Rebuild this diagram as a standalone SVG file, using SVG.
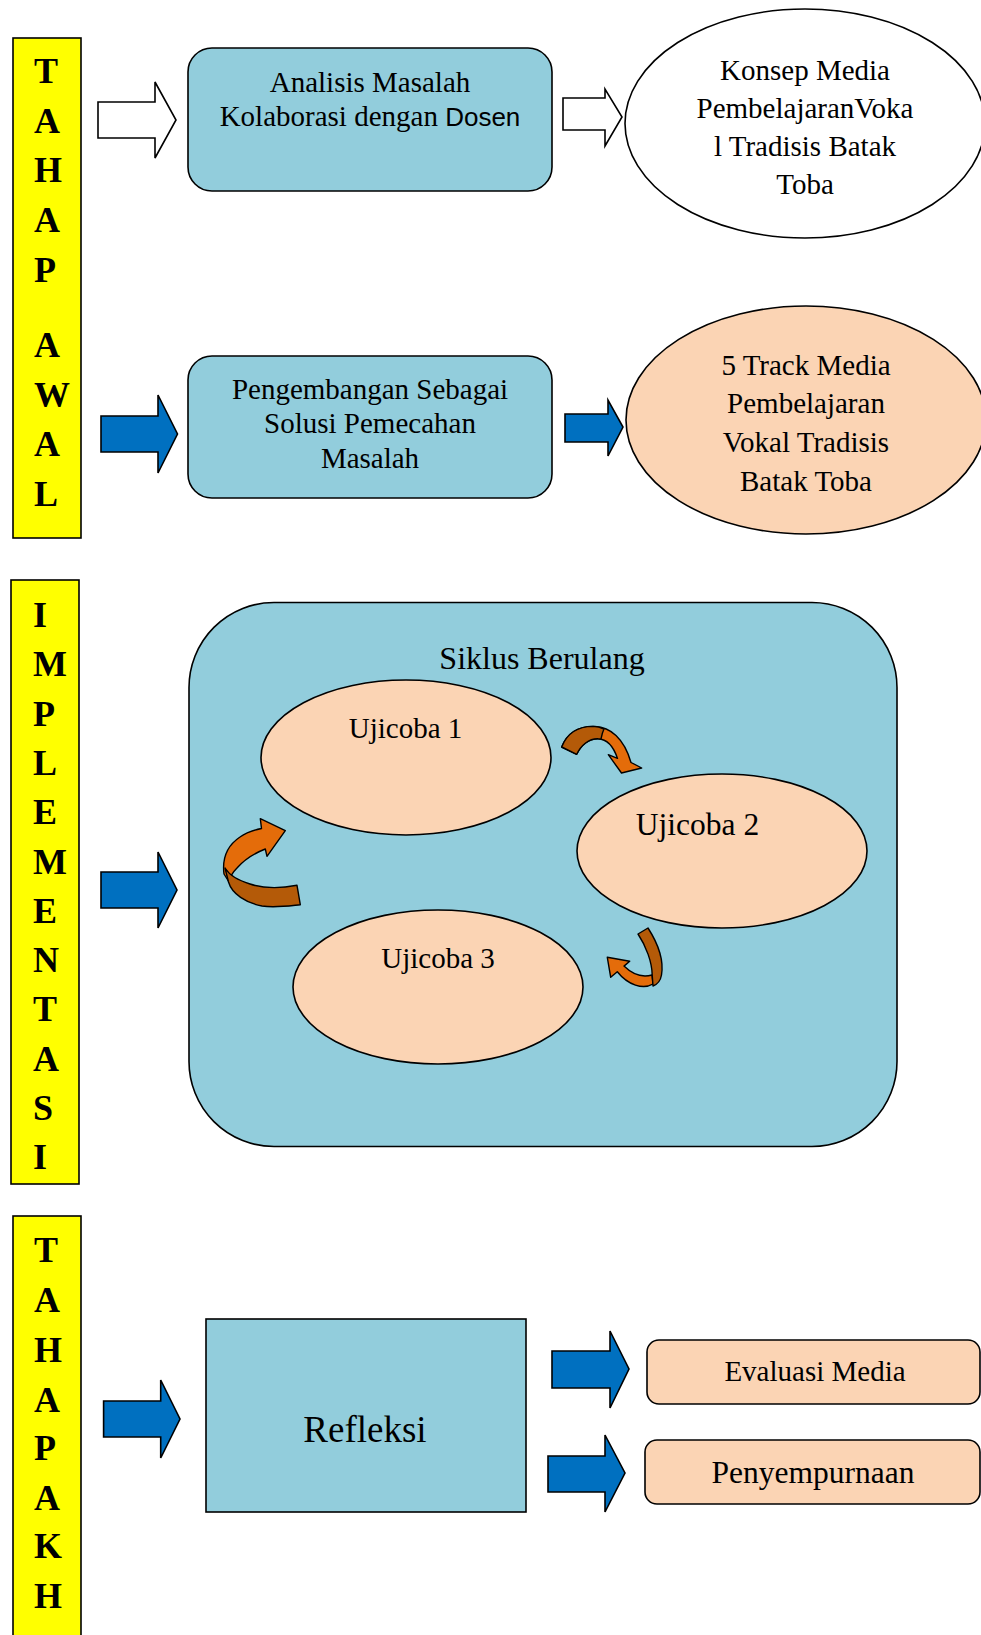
<svg xmlns="http://www.w3.org/2000/svg" width="981" height="1635" viewBox="0 0 981 1635">
<style>
.bar{fill:#FFFF00;stroke:#000;stroke-width:1.6}
.bl{font-family:"Liberation Serif",serif;font-weight:bold;font-size:36px;fill:#000}
.box{fill:#92CDDC;stroke:#000;stroke-width:1.6}
.peach{fill:#FBD4B4;stroke:#000;stroke-width:1.6}
.wh{fill:#fff;stroke:#000;stroke-width:1.6}
.t{font-family:"Liberation Serif",serif;font-size:29px;fill:#000;text-anchor:middle}
.sans{font-family:"Liberation Sans",sans-serif;font-size:26px}
.blue{fill:#0070C0;stroke:#000;stroke-width:1.6;stroke-linejoin:miter}
.warr{fill:#fff;stroke:#000;stroke-width:1.6}
.lo{fill:#E46C0A;stroke:#000;stroke-width:1.4;stroke-linejoin:round}
.dk{fill:#B45A08;stroke:#000;stroke-width:1.4;stroke-linejoin:round}
</style>
<rect width="981" height="1635" fill="#fff"/>

<g id="bar-awal">
<rect class="bar" x="13" y="38" width="68" height="500"/>
<text class="bl" x="34" y="83">T</text>
<text class="bl" x="34" y="132.6">A</text>
<text class="bl" x="34" y="182">H</text>
<text class="bl" x="34" y="232">A</text>
<text class="bl" x="34" y="281.5">P</text>
<text class="bl" x="34" y="357">A</text>
<text class="bl" x="34" y="406.5">W</text>
<text class="bl" x="34" y="456">A</text>
<text class="bl" x="34" y="505.5">L</text>
</g>

<g id="bar-implementasi">
<rect class="bar" x="11" y="580" width="68" height="604"/>
<text class="bl" x="33" y="627">I</text>
<text class="bl" x="33" y="676">M</text>
<text class="bl" x="33" y="726">P</text>
<text class="bl" x="33" y="775">L</text>
<text class="bl" x="33" y="824">E</text>
<text class="bl" x="33" y="874">M</text>
<text class="bl" x="33" y="923">E</text>
<text class="bl" x="33" y="972">N</text>
<text class="bl" x="33" y="1021">T</text>
<text class="bl" x="33" y="1071">A</text>
<text class="bl" x="33" y="1120">S</text>
<text class="bl" x="33" y="1169">I</text>
</g>

<g id="bar-akhir">
<rect class="bar" x="13" y="1216" width="68" height="430"/>
<text class="bl" x="34" y="1262">T</text>
<text class="bl" x="34" y="1312">A</text>
<text class="bl" x="34" y="1362">H</text>
<text class="bl" x="34" y="1412">A</text>
<text class="bl" x="34" y="1460">P</text>
<text class="bl" x="34" y="1510">A</text>
<text class="bl" x="34" y="1558">K</text>
<text class="bl" x="34" y="1608">H</text>
</g>

<g id="analisis">
<rect class="box" x="188" y="48" width="364" height="143" rx="24" ry="24"/>
<text class="t" x="370" y="92">Analisis Masalah</text>
<text class="t" x="370" y="126">Kolaborasi dengan <tspan class="sans">Dosen</tspan></text>
</g>

<g id="konsep">
<ellipse class="wh" cx="805" cy="123.5" rx="180" ry="114.5"/>
<text class="t" x="805" y="80">Konsep Media</text>
<text class="t" x="805" y="118">PembelajaranVoka</text>
<text class="t" x="805" y="156">l Tradisis Batak</text>
<text class="t" x="805" y="194">Toba</text>
</g>

<g id="pengembangan">
<rect class="box" x="188" y="356" width="364" height="142" rx="24" ry="24"/>
<text class="t" x="370" y="399">Pengembangan Sebagai</text>
<text class="t" x="370" y="433">Solusi Pemecahan</text>
<text class="t" x="370" y="468">Masalah</text>
</g>

<g id="track">
<ellipse class="peach" cx="806" cy="420" rx="180" ry="114"/>
<text class="t" x="806" y="375">5 Track Media</text>
<text class="t" x="806" y="413">Pembelajaran</text>
<text class="t" x="806" y="452">Vokal Tradisis</text>
<text class="t" x="806" y="491">Batak Toba</text>
</g>

<g id="siklus">
<rect class="box" x="189" y="602.5" width="708" height="544" rx="85" ry="85"/>
<text class="t" x="542" y="669" style="font-size:32px">Siklus Berulang</text>
</g>

<g id="ujicoba1">
<ellipse class="peach" cx="406" cy="757.5" rx="145" ry="77.5"/>
<text class="t" x="405.5" y="737.5">Ujicoba 1</text>
</g>

<g id="ujicoba2">
<ellipse class="peach" cx="722" cy="851" rx="145" ry="77"/>
<text class="t" x="697.5" y="834.5" style="font-size:31.5px">Ujicoba 2</text>
</g>

<g id="ujicoba3">
<ellipse class="peach" cx="438" cy="987" rx="145" ry="77"/>
<text class="t" x="438" y="968">Ujicoba 3</text>
</g>

<g id="refleksi">
<rect class="box" x="206" y="1319" width="320" height="193"/>
<text class="t" x="365" y="1442" style="font-size:37px">Refleksi</text>
</g>

<g id="evaluasi">
<rect class="peach" x="647" y="1340" width="333" height="64" rx="12" ry="12"/>
<text class="t" x="815" y="1381">Evaluasi Media</text>
</g>

<g id="penyempurnaan">
<rect class="peach" x="645" y="1440" width="335" height="64" rx="12" ry="12"/>
<text class="t" x="813" y="1483" style="font-size:31.5px">Penyempurnaan</text>
</g>

<g id="connectors">
<polygon class="warr" points="98,102 155,102 155,82 176,120 155,158 155,138 98,138"/>
<polygon class="warr" points="563,98 605,98 605,89 622,117 605,146 605,130 563,130"/>
<polygon class="blue" points="101,416 158,416 158,395 177.5,434 158,473 158,452 101,452"/>
<polygon class="blue" points="565,414 608,414 608,400 623,427 608,456 608,442 565,442"/>
<polygon class="blue" points="101,872 158,872 158,852 177,890 158,928 158,908 101,908"/>
<polygon class="blue" points="103.6,1401 160.7,1401 160.7,1380 180,1419 160.7,1458 160.7,1437 103.6,1437"/>
<polygon class="blue" points="552,1351 610,1351 610,1331 629,1369 610,1408 610,1388 552,1388"/>
<polygon class="blue" points="548,1456 605,1456 605,1435 625,1473 605,1512 605,1492 548,1492"/>

<g id="curve-1-2">
<path class="lo" d="M561.7,747 C568,732 580,726 595,726.5 C610,727 624,738 631,762.5 L641.7,768 L621.5,773 L608.3,754.7 L617.5,758.4 C613,745 606,739 598,738.7 C589,738.5 581,745 576.7,754.3 Z"/>
<path class="dk" d="M561.7,747 C567,733 578,726.5 593,726.4 C597,726.5 601,727.5 604,729 C602,733 601.5,736.5 601,739.2 C600,738.9 599,738.7 598,738.7 C589,738.5 581,745 576.7,754.3 Z"/>
</g>
<g id="curve-2-3">
<path class="lo" d="M617.3,971.7 L610.7,977.3 L607.3,957.3 L629.7,961.3 L624,966.1 C632,974 641,978 652,975 L653,984 C643,990 628,985 617.3,971.7 Z"/>
<path class="dk" d="M638,934 L648,928 C657,942 664,960 661.5,975 C660.5,981 657,984.5 653,986 L652.2,975 C652,962 646,946 638,934 Z"/>
</g>
<g id="curve-3-1">
<path class="lo" d="M224,874 C222,858 228,845 240,837 C247,832 254,830 261.5,828.5 L260.3,818.7 L285.3,830.7 L267,856.3 L265.3,849 C255,853 244,860 237,868 C233,872 230,876 229,882 Z"/>
<path class="dk" d="M228.5,882 C232,894 246,903 262,906 C275,908 288,906 300.3,904.7 L297,885.3 C283,888 265,889 250,884 C238,880 230,876 225,868 Z"/>
</g>
</g>
</svg>
